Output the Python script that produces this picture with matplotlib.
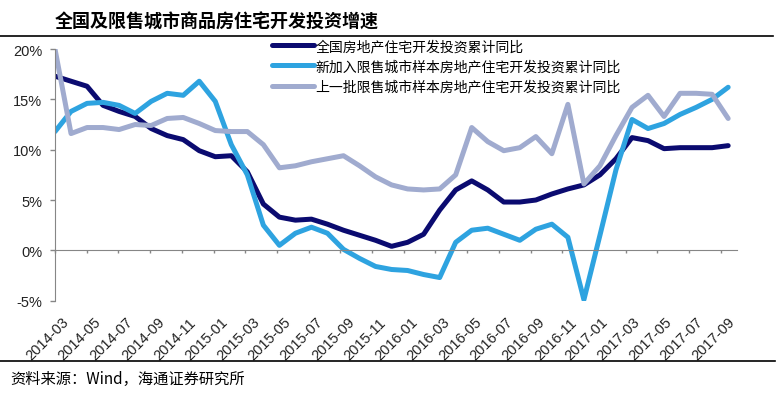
import numpy as np
import matplotlib
matplotlib.use('agg')
import matplotlib.pyplot as plt
from matplotlib.lines import Line2D
from matplotlib.transforms import ScaledTranslation
import matplotlib.ticker as mticker

plt.rcParams['font.family'] = ['Liberation Sans', 'Noto Sans CJK SC', 'DejaVu Sans']

title = '全国及限售城市商品房住宅开发投资增速'
source = '资料来源：Wind，海通证券研究所'

tick_labels = ['2014-03', '2014-05', '2014-07', '2014-09', '2014-11',
               '2015-01', '2015-03', '2015-05', '2015-07', '2015-09', '2015-11',
               '2016-01', '2016-03', '2016-05', '2016-07', '2016-09', '2016-11',
               '2017-01', '2017-03', '2017-05', '2017-07', '2017-09']

names = ['全国房地产住宅开发投资累计同比',
         '新加入限售城市样本房地产住宅开发投资累计同比',
         '上一批限售城市样本房地产住宅开发投资累计同比']

# monthly, 2014-03 .. 2017-09 (%)
national = [17.3, 16.8, 16.3, 14.4, 13.8, 13.3, 12.1, 11.4, 11.0, 9.9,
            9.3, 9.4, 7.8, 4.6, 3.3, 3.0, 3.1, 2.6, 2.0, 1.5,
            1.0, 0.4, 0.8, 1.6, 4.0, 6.0, 6.9, 6.0, 4.8, 4.8,
            5.0, 5.6, 6.1, 6.5, 7.5, 9.1, 11.2, 10.9, 10.1, 10.2,
            10.2, 10.2, 10.4]
new_cities = [11.8, 13.8, 14.6, 14.7, 14.4, 13.6, 14.8, 15.6, 15.4, 16.8,
              14.8, 10.5, 7.5, 2.5, 0.5, 1.7, 2.3, 1.7, 0.1, -0.8,
              -1.6, -1.9, -2.0, -2.4, -2.7, 0.8, 2.0, 2.2, 1.6, 1.0,
              2.1, 2.6, 1.3, -4.9, 1.5, 8.0, 13.0, 12.1, 12.6, 13.5,
              14.2, 15.0, 16.2]
old_cities = [20.0, 11.6, 12.2, 12.2, 12.0, 12.5, 12.4, 13.1, 13.2, 12.6,
              11.9, 11.8, 11.8, 10.5, 8.2, 8.4, 8.8, 9.1, 9.4, 8.4,
              7.3, 6.5, 6.1, 6.0, 6.1, 7.5, 12.2, 10.8, 9.9, 10.2,
              11.3, 9.6, 14.5, 6.6, 8.4, 11.4, 14.2, 15.4, 13.3, 15.6,
              15.6, 15.5, 13.1]

colors = ['#0b0b70', '#2ea3e0', '#a0abcf']
axis_grey = '#868686'

W, H = 782, 402
fig = plt.figure(figsize=(W / 100, H / 100), dpi=100)
ax = fig.add_axes([55 / W, 1 - 301.7 / H, 682.3 / W, 251.7 / H])

x = np.arange(len(national))
for vals, name, c in zip([national, new_cities, old_cities], names, colors):
    ax.plot(x, vals, color=c, lw=3.6, label=name,
            solid_joinstyle='round', solid_capstyle='round')

ax.set_ylim(-5, 20)
ax.set_xlim(0, 42.57)
ax.yaxis.set_major_locator(mticker.MultipleLocator(5))
ax.yaxis.set_major_formatter(mticker.FormatStrFormatter('%d%%'))

# excel date axis: ticks run a touch tighter than 2 months
tick_pos = np.arange(len(tick_labels)) * 1.978
ax.set_xticks(tick_pos)
ax.tick_params(axis='x', labelbottom=False, direction='out', length=2.5,
               color=axis_grey, width=1)
ax.tick_params(axis='y', direction='out', length=3.6, color=axis_grey,
               width=1, pad=5.5, labelsize=10.5, labelcolor='#222222')

for s in ['top', 'right']:
    ax.spines[s].set_visible(False)
ax.spines['bottom'].set_position(('data', 0))
ax.spines['bottom'].set_color(axis_grey)
ax.spines['left'].set_color(axis_grey)

sec = ax.secondary_xaxis('bottom')
sec.set_xticks(tick_pos, tick_labels, rotation=45, ha='right',
               rotation_mode='anchor', fontsize=10.5, color='#222222')
sec.tick_params(length=0, pad=10)
sec.spines['bottom'].set_visible(False)
shift = ScaledTranslation(0.07, 0, fig.dpi_scale_trans)
for lab in sec.get_xticklabels():
    lab.set_transform(lab.get_transform() + shift)

ax.legend(loc='upper left', bbox_to_anchor=(272 / W, 1 - 40 / H),
          bbox_transform=fig.transFigure, frameon=False,
          prop={'family': ['Noto Sans CJK SC'], 'size': 10},
          handlelength=3.0, handletextpad=0.15, labelspacing=0.45,
          borderpad=0, borderaxespad=0)

fig.text(55 / W, 1 - 22 / H, title, fontsize=13, fontweight='bold',
         va='center', family=['Noto Sans CJK SC'])
fig.text(10 / W, 1 - 379 / H, source, fontsize=11, va='center',
         family=['Noto Sans CJK SC', 'DejaVu Sans'])

fig.add_artist(Line2D([0, 773 / W], [1 - 37 / H] * 2, color='black', lw=1.2))
fig.add_artist(Line2D([0, 775 / W], [1 - 362 / H] * 2, color='black', lw=1.2))

fig.savefig('out.png', dpi=100, facecolor='white')
